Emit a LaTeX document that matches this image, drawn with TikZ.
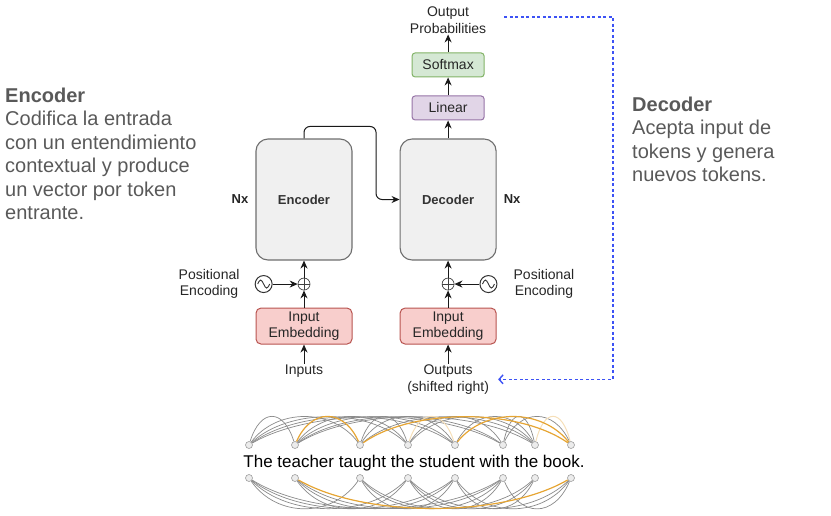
\documentclass[tikz,border=0pt]{standalone}
\usepackage{fontspec}
\setmainfont{Liberation Sans}
\usetikzlibrary{arrows.meta, positioning, calc, backgrounds}
\definecolor{cStackFill}{HTML}{F0F0F0}
\definecolor{cStackLine}{HTML}{6E6E6E}
\definecolor{cLinearFill}{HTML}{E1D5E7}
\definecolor{cLinearLine}{HTML}{9673A6}
\definecolor{cSoftmaxFill}{HTML}{D5E8D4}
\definecolor{cSoftmaxLine}{HTML}{82B366}
\definecolor{cEmbedFill}{HTML}{F8CECC}
\definecolor{cEmbedLine}{HTML}{B85450}
\definecolor{cNote}{HTML}{595959}
\definecolor{cFeedback}{HTML}{3D52F5}
\definecolor{cAttnGray}{HTML}{8A8A8A}
\definecolor{cAttnGold}{HTML}{E6A533}
\tikzset{
    stackBox/.style={
        rectangle, rounded corners=12pt, line width=1.1pt,
        draw=cStackLine, fill=cStackFill,
        minimum width=96pt, minimum height=121pt,
        font=\fontsize{13}{15}\selectfont\bfseries, text=black!80
    },
    layerBox/.style={
        rectangle, rounded corners=3pt, line width=1pt,
        minimum width=72pt, minimum height=24pt, inner sep=0pt,
        font=\fontsize{14}{16}\selectfont, text=black!85
    },
    embedBox/.style={
        rectangle, rounded corners=5pt, line width=1pt,
        draw=cEmbedLine, fill=cEmbedFill,
        minimum width=96pt, minimum height=36pt, inner sep=0pt,
        align=center, font=\fontsize{14}{16}\selectfont, text=black!85
    },
    diagLabel/.style={
        inner sep=1pt, align=center,
        font=\fontsize{14}{16.5}\selectfont, text=black!85
    },
    noteText/.style={
        inner sep=0pt, align=left, anchor=north west,
        font=\fontsize{20}{23.5}\selectfont, text=cNote
    },
    addNode/.style={
        circle, draw=black!75, line width=0.7pt,
        minimum size=12pt, inner sep=0pt,
        path picture={
            \draw [black!75, line width=0.7pt]
                (path picture bounding box.north) -- (path picture bounding box.south)
                (path picture bounding box.west) -- (path picture bounding box.east);
        }
    },
    waveNode/.style={
        circle, draw=black!80, line width=1pt,
        minimum size=17pt, inner sep=0pt,
        path picture={
            \draw [black!80, line width=0.9pt]
                ([xshift=-6pt]path picture bounding box.center)
                sin ++(3pt,4pt) cos ++(3pt,-4pt) sin ++(3pt,-4pt) cos ++(3pt,4pt);
        }
    },
    flowArrow/.style={
        -{Stealth[length=8pt, width=7pt]},
        line width=1pt, draw=black!90
    },
    feedback/.style={
        -{Straight Barb[length=4pt, width=9pt]},
        line width=1.4pt, draw=cFeedback, dash pattern=on 3pt off 2.5pt
    },
    tokenDot/.style={
        circle, minimum size=7pt, inner sep=0pt,
        fill=gray!15, draw=gray!75, line width=0.6pt
    },
    attnEdge/.style={line width=0.7pt, draw=cAttnGray},
    attnGold/.style={line width=1.2pt, draw=cAttnGold},
    attnPale/.style={line width=1pt, draw=cAttnGold!35}
}

\begin{document}
\begin{tikzpicture}[x=1pt, y=-1pt]

	\useasboundingbox (0,0) rectangle (831,515);

	% =========================================================
	% Encoder and Decoder Stacks
	% =========================================================

	\node [stackBox] (encoder) at (304,199.5) {Encoder};
	\node [stackBox, right=47pt of encoder] (decoder) {Decoder};

	\node [diagLabel, font=\fontsize{13}{15}\selectfont\bfseries, left=6pt of encoder] (encN) {Nx};
	\node [diagLabel, font=\fontsize{13}{15}\selectfont\bfseries, right=6pt of decoder] (decN) {Nx};

	\node [layerBox, draw=cLinearLine, fill=cLinearFill, above=18pt of decoder] (linear) {Linear};
	\node [layerBox, draw=cSoftmaxLine, fill=cSoftmaxFill, above=18pt of linear] (softmax) {Softmax};
	\node [diagLabel, above=18pt of softmax] (probs) {Output\\Probabilities};

	\draw [flowArrow] (decoder) -- (linear);
	\draw [flowArrow] (linear) -- (softmax);
	\draw [flowArrow] (softmax) -- (probs);

	\draw [flowArrow, rounded corners=6pt] (encoder.north) -- ++(0,-12)
		-| ($(encoder.east)!0.5!(decoder.west)$) -- (decoder.west);

	% =========================================================
	% Embeddings and Positional Encoding
	% =========================================================

	\node [embedBox, below=47pt of encoder] (encEmbed) {Input\\Embedding};
	\node [embedBox, below=47pt of decoder] (decEmbed) {Input\\Embedding};

	\node [addNode] (encAdd) at ($(encoder.south)!0.5!(encEmbed.north)$) {};
	\node [addNode] (decAdd) at ($(decoder.south)!0.5!(decEmbed.north)$) {};

	\node [waveNode, left=25pt of encAdd] (encPos) {};
	\node [waveNode, right=25pt of decAdd] (decPos) {};

	\node [diagLabel, left=14pt of encPos] (encPosText) {Positional\\Encoding};
	\node [diagLabel, right=15pt of decPos] (decPosText) {Positional\\Encoding};

	\node [diagLabel, below=19pt of encEmbed] (inputs) {Inputs};
	\node [diagLabel, below=19pt of decEmbed] (shifted) {Outputs\\(shifted right)};

	\draw [flowArrow] (inputs) -- (encEmbed);
	\draw [flowArrow] (encEmbed) -- (encAdd);
	\draw [flowArrow] (encAdd) -- (encoder);
	\draw [flowArrow] (encPos) -- (encAdd);

	\draw [flowArrow] (shifted) -- (decEmbed);
	\draw [flowArrow] (decEmbed) -- (decAdd);
	\draw [flowArrow] (decAdd) -- (decoder);
	\draw [flowArrow] (decPos) -- (decAdd);

	% =========================================================
	% Feedback Loop
	% =========================================================

	\coordinate (fbTurn) at (613,17);
	\draw [feedback] ([xshift=17pt]probs.east |- fbTurn) -- (fbTurn)
		|- ([xshift=8pt]shifted.east);

	% =========================================================
	% Side Notes
	% =========================================================

	\node [noteText] (encNote) at (5,87.5) {
		\textbf{Encoder}\\
		Codifica la entrada\\
		con un entendimiento\\
		contextual y produce\\
		un vector por token\\
		entrante.
	};

	\node [noteText] (decNote) at (632,96.5) {
		\textbf{Decoder}\\
		Acepta input de\\
		tokens y genera\\
		nuevos tokens.
	};

	% =========================================================
	% Attention Example
	% =========================================================

	\node [font=\fontsize{17}{20}\selectfont, anchor=base, inner sep=0pt] (sentence) at (414,467)
		{The teacher taught the student with the book.};

	\foreach \x [count=\i] in {249,295,360,408,455,503,535,571} {
			\node [tokenDot] (top\i) at (\x,445) {};
			\node [tokenDot] (bot\i) at (\x,478) {};
		}

	\begin{scope}[on background layer]
		\foreach \a/\b in {1/2,1/3,1/4,1/5,1/6,2/4,2/5,2/6,2/7,3/4,3/5,3/7,4/6,4/7,5/7,6/7,6/8} {
				\draw [attnEdge] (top\a) .. controls ($(top\a)!0.25!(top\b)+(0,-37)$)
					and ($(top\a)!0.75!(top\b)+(0,-37)$) .. (top\b);
			}
		\foreach \a/\b in {4/5,7/8} {
				\draw [attnPale] (top\a) .. controls ($(top\a)!0.25!(top\b)+(0,-37)$)
					and ($(top\a)!0.75!(top\b)+(0,-37)$) .. (top\b);
			}
		\foreach \a/\b in {2/3,3/8,5/8} {
				\draw [attnGold] (top\a) .. controls ($(top\a)!0.25!(top\b)+(0,-37)$)
					and ($(top\a)!0.75!(top\b)+(0,-37)$) .. (top\b);
			}
		\foreach \a/\b in {1/3,1/4,1/5,1/6,2/4,2/5,2/6,3/5,3/6,3/7,4/6,4/7,4/8,5/7,5/8,6/8} {
				\draw [attnEdge] (bot\a) .. controls ($(bot\a)!0.25!(bot\b)+(0,40)$)
					and ($(bot\a)!0.75!(bot\b)+(0,40)$) .. (bot\b);
			}
		\draw [attnGold] (bot2) .. controls ($(bot2)!0.25!(bot8)+(0,40)$)
			and ($(bot2)!0.75!(bot8)+(0,40)$) .. (bot8);
	\end{scope}

\end{tikzpicture}
\end{document}
